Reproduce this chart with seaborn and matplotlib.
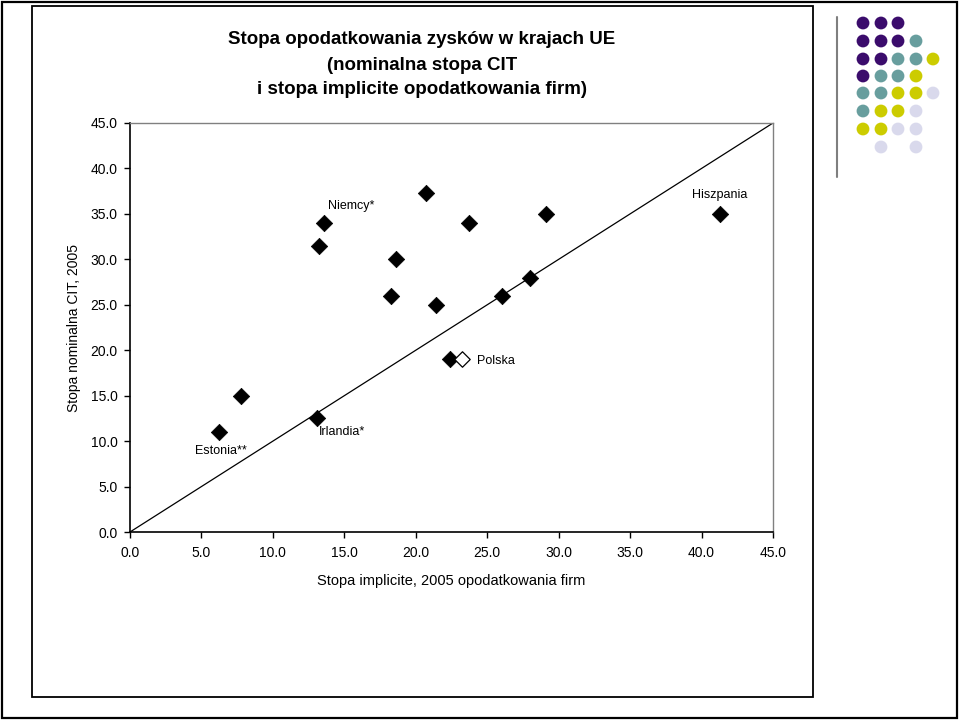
import matplotlib
matplotlib.use("Agg")
import matplotlib.pyplot as plt
import seaborn as sns
import pandas as pd
from matplotlib.patches import Rectangle, Circle
from matplotlib.lines import Line2D

# ---- data ----
implicit_rate = [6.2, 7.8, 13.1, 13.2, 13.6, 18.3, 18.6, 20.7, 21.4, 22.4, 23.2, 23.7, 26.0, 28.0, 29.1, 41.3]
nominal_rate = [11.0, 15.0, 12.5, 31.5, 34.0, 26.0, 30.0, 37.3, 25.0, 19.0, 19.0, 34.0, 26.0, 28.0, 35.0, 35.0]
country_label = ["Estonia**", "", "Irlandia*", "", "Niemcy*", "", "", "", "", "", "Polska", "", "", "", "", "Hiszpania"]
highlight = [False] * 10 + [True] + [False] * 5

title_lines = ["Stopa opodatkowania zysków w krajach UE",
               "(nominalna stopa CIT",
               "i stopa implicite opodatkowania firm)"]
x_label = "Stopa implicite, 2005 opodatkowania firm"
y_label = "Stopa nominalna CIT, 2005"
tick_values = [0, 5, 10, 15, 20, 25, 30, 35, 40, 45]

# label offsets in points (text placement only)
label_offsets = {"Estonia**": (1.5, -13.5, "center"),
                 "Irlandia*": (1.5, -10, "left"),
                 "Niemcy*": (3, 12, "left"),
                 "Polska": (11, -1, "left"),
                 "Hiszpania": (0, 13.5, "center")}

# decorative dot grid (slide ornament)
dot_cols = [863, 881, 898, 916, 933]
dot_rows = [23, 41, 59, 76, 93, 111, 129, 147]
dot_pattern = ["PPP  ",
               "PPPT ",
               "PPTTY",
               "PTTY ",
               "TTYYL",
               "TYYL ",
               "YYLL ",
               " L L "]
dot_colors = {"P": "#3B0C6C", "T": "#689E9E", "Y": "#CCCC00", "L": "#D9D9EC"}

df = pd.DataFrame({"x": implicit_rate, "y": nominal_rate, "label": country_label, "hl": highlight})

sns.set_style("ticks")
plt.rcParams["font.family"] = ["Liberation Sans", "DejaVu Sans"]
plt.rcParams["text.color"] = "black"
plt.rcParams["axes.labelcolor"] = "black"
plt.rcParams["xtick.color"] = "black"
plt.rcParams["ytick.color"] = "black"

fig = plt.figure(figsize=(9.59, 7.2), dpi=100)
fig.patch.set_facecolor("white")

# background layer in pixel units
bg = fig.add_axes([0, 0, 1, 1], zorder=0)
bg.set_xlim(0, 959)
bg.set_ylim(720, 0)
bg.set_axis_off()
bg.add_patch(Rectangle((1.5, 1.5), 955.5, 716, fill=False, edgecolor="black", lw=1.6))
bg.add_patch(Rectangle((32, 6), 781, 690.5, fill=False, edgecolor="black", lw=1.3))
bg.add_line(Line2D([836.5, 836.5], [17, 177], color="#7f7f7f", lw=1.5))
for r, row in enumerate(dot_pattern):
    for c, ch in enumerate(row):
        if ch != " ":
            bg.add_patch(Circle((dot_cols[c], dot_rows[r]), 6.4, color=dot_colors[ch], lw=0))

for i, line in enumerate(title_lines):
    bg.text(422, 40 + 25 * i, line, ha="center", va="center", fontsize=13.5, fontweight="bold")

# main plot area
ax = fig.add_axes([130 / 959, 1 - 532 / 720, (773 - 130) / 959, (532 - 123) / 720], zorder=1)
ax.set_facecolor("white")
ax.plot([0, 45], [0, 45], color="black", lw=0.9, zorder=1)

sns.scatterplot(data=df[~df["hl"]], x="x", y="y", marker="D", s=70, color="black",
                edgecolor="black", linewidth=0.5, ax=ax, zorder=3)
sns.scatterplot(data=df[df["hl"]], x="x", y="y", marker="D", s=62, color="white",
                edgecolor="black", linewidth=0.9, ax=ax, zorder=4)

for _, row in df.iterrows():
    if row["label"]:
        dx, dy, ha = label_offsets[row["label"]]
        ax.annotate(row["label"], (row["x"], row["y"]), xytext=(dx, dy), textcoords="offset points",
                    ha=ha, va="center", fontsize=9)

ax.set_xlim(0, 45)
ax.set_ylim(0, 45)
ax.set_xticks(tick_values)
ax.set_yticks(tick_values)
ax.set_xticklabels([f"{v:.1f}" for v in tick_values], fontsize=10)
ax.set_yticklabels([f"{v:.1f}" for v in tick_values], fontsize=10)
ax.tick_params(direction="out", length=4, width=1, color="black")
ax.tick_params(axis="x", pad=6)
ax.tick_params(axis="y", pad=5)
ax.set_xlabel(x_label, fontsize=10.5, labelpad=10)
ax.set_ylabel(y_label, fontsize=10, labelpad=7)
for side in ["left", "bottom"]:
    ax.spines[side].set_color("black")
    ax.spines[side].set_linewidth(1.2)
for side in ["top", "right"]:
    ax.spines[side].set_visible(True)
    ax.spines[side].set_color("#808080")
    ax.spines[side].set_linewidth(1.0)

fig.savefig("out.png", dpi=100, facecolor="white")
